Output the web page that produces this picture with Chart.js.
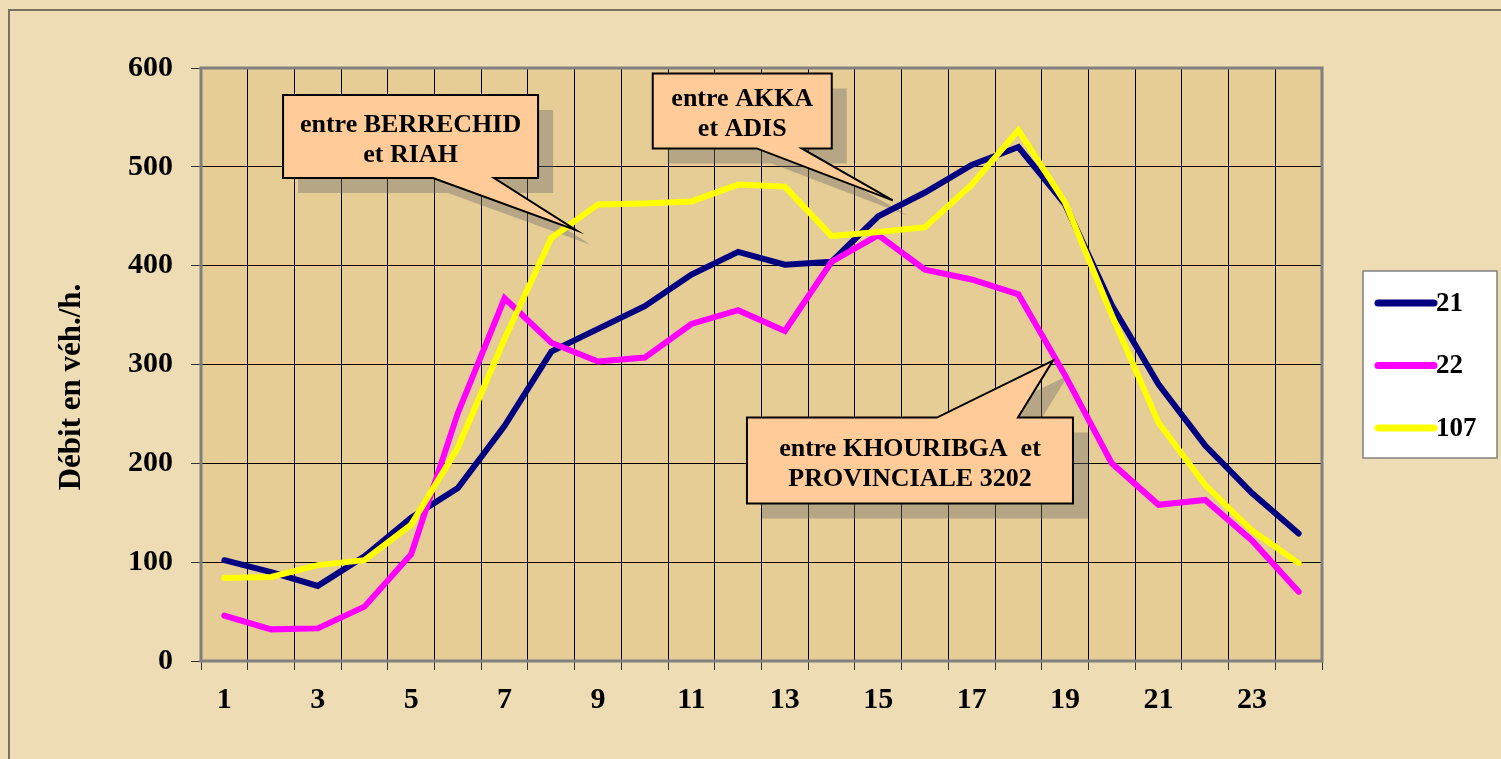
<!DOCTYPE html>
<html>
<head>
<meta charset="utf-8">
<script src="https://cdn.jsdelivr.net/npm/chart.js@4/dist/chart.umd.min.js"></script>
<style>
  html, body { margin: 0; padding: 0; background: #eedcb5; }
  #wrap { width: 1501px; height: 759px; }
</style>
</head>
<body>
<div id="wrap"><canvas id="chart" width="1501" height="759"></canvas></div>
<script>
// hours of the day
const hours = ['1', '2', '3', '4', '5', '6', '7', '8', '9', '10', '11', '12',
  '13', '14', '15', '16', '17', '18', '19', '20', '21', '22', '23', '24'];

// débit (véh./h.) per route section
const route21 = [102, 90, 76, 106, 145, 175, 238, 313, 336, 359, 391, 414,
  401, 404, 450, 474, 502, 520, 462, 360, 280, 218, 170, 129];
const route22 = [46, 32, 33, 55, 108, 251, 367, 322, 303, 307, 341, 355,
  334, 404, 431, 396, 386, 371, 289, 200, 158, 163, 122, 70];
const route107 = [84, 85, 97, 102, 138, 216, 326, 428, 462, 463, 465, 482,
  480, 430, 434, 439, 482, 537, 464, 350, 241, 178, 132, 99];

const seriesNames = ['21', '22', '107'];
const yTicks = [0, 100, 200, 300, 400, 500, 600];
const yTitle = 'Débit en véh./h.';

// callouts: text + the point they refer to (category index, value)
const calloutText = [
  ['entre BERRECHID', 'et RIAH'],
  ['entre AKKA', 'et ADIS'],
  ['entre KHOURIBGA  et', 'PROVINCIALE 3202']
];
const calloutIndex = [7.53, 14.31, 17.74];
const calloutValue = [436, 466, 304];

const FONT = '"Liberation Serif", "Times New Roman", serif';

// box geometry relative to the pointer tip, in px
const calloutBoxes = [
  { dx: -293, dy: -135, w: 255, h: 83, b1: 150, b2: 211, below: false },
  { dx: -240, dy: -127, w: 179, h: 75, b1: 104, b2: 149, below: false },
  { dx: -306, dy: 57, w: 326, h: 86, b1: 190, b2: 271, below: true }
];

function calloutPath(ctx, tx, ty, g, off) {
  const l = tx + g.dx + off, t = ty + g.dy + off, r = l + g.w, b = t + g.h;
  ctx.beginPath();
  if (!g.below) {
    ctx.moveTo(l, t);
    ctx.lineTo(r, t);
    ctx.lineTo(r, b);
    ctx.lineTo(l + g.b2, b);
    ctx.lineTo(tx + off, ty + off);
    ctx.lineTo(l + g.b1, b);
    ctx.lineTo(l, b);
  } else {
    ctx.moveTo(l, t);
    ctx.lineTo(l + g.b1, t);
    ctx.lineTo(tx + off, ty + off);
    ctx.lineTo(l + g.b2, t);
    ctx.lineTo(r, t);
    ctx.lineTo(r, b);
    ctx.lineTo(l, b);
  }
  ctx.closePath();
}

const decor = {
  id: 'decor',
  beforeDraw(chart) {
    const { ctx, chartArea: a, width, height } = chart;
    ctx.save();
    ctx.fillStyle = '#eedcb5';
    ctx.fillRect(0, 0, width, height);
    ctx.strokeStyle = '#7a7060';
    ctx.lineWidth = 2;
    ctx.beginPath();
    ctx.moveTo(9, height);
    ctx.lineTo(9, 10);
    ctx.lineTo(width, 10);
    ctx.stroke();
    ctx.fillStyle = '#e6cc95';
    ctx.fillRect(a.left, a.top, a.right - a.left, a.bottom - a.top);
    ctx.restore();
  },
  beforeDatasetsDraw(chart) {
    const { ctx, chartArea: a, scales } = chart;
    ctx.save();
    ctx.strokeStyle = '#808080';
    ctx.lineWidth = 3;
    ctx.strokeRect(a.left, a.top, a.right - a.left, a.bottom - a.top);
    // y axis title, a little below the axis middle like the original
    ctx.translate(72, 387);
    ctx.rotate(-Math.PI / 2);
    ctx.fillStyle = '#000';
    ctx.font = 'bold 31px ' + FONT;
    ctx.textAlign = 'center';
    ctx.textBaseline = 'middle';
    ctx.fillText(yTitle, 0, 0);
    ctx.setTransform(1, 0, 0, 1, 0, 0);
    // callout shadows
    ctx.fillStyle = 'rgba(110, 110, 110, 0.4)';
    calloutText.forEach((_, i) => {
      const tx = scales.x.getPixelForValue(calloutIndex[i]);
      const ty = scales.y.getPixelForValue(calloutValue[i]);
      calloutPath(ctx, tx, ty, calloutBoxes[i], 15);
      ctx.fill();
    });
    ctx.restore();
  },
  afterDatasetsDraw(chart) {
    const { ctx, scales } = chart;
    ctx.save();
    calloutText.forEach((lines, i) => {
      const g = calloutBoxes[i];
      const tx = scales.x.getPixelForValue(calloutIndex[i]);
      const ty = scales.y.getPixelForValue(calloutValue[i]);
      calloutPath(ctx, tx, ty, g, 0);
      ctx.fillStyle = '#ffcc99';
      ctx.fill();
      ctx.strokeStyle = '#000';
      ctx.lineWidth = 2;
      ctx.lineJoin = 'miter';
      ctx.stroke();
      const cx = tx + g.dx + g.w / 2;
      const cy = ty + g.dy + g.h / 2;
      ctx.fillStyle = '#000';
      ctx.font = 'bold 26px ' + FONT;
      ctx.textAlign = 'center';
      ctx.textBaseline = 'alphabetic';
      ctx.fillText(lines[0], cx, cy - 5);
      ctx.fillText(lines[1], cx, cy + 25);
    });

    // legend
    const lx = 1363, ly = 271, lw = 134, lh = 187;
    ctx.fillStyle = '#fff';
    ctx.fillRect(lx, ly, lw, lh);
    ctx.strokeStyle = '#808080';
    ctx.lineWidth = 1.5;
    ctx.strokeRect(lx, ly, lw, lh);
    chart.data.datasets.forEach((ds, i) => {
      const y = ly + 32 + i * 62.5;
      ctx.strokeStyle = ds.borderColor;
      ctx.lineWidth = 7;
      ctx.lineCap = 'round';
      ctx.beginPath();
      ctx.moveTo(lx + 15, y);
      ctx.lineTo(lx + 71, y);
      ctx.stroke();
      ctx.fillStyle = '#000';
      ctx.font = 'bold 27px ' + FONT;
      ctx.textAlign = 'left';
      ctx.textBaseline = 'middle';
      ctx.fillText(ds.label, lx + 73, y + 1);
    });
    ctx.restore();
  }
};

const colors = ['#000080', '#ff00ff', '#ffff00'];
const values = [route21, route22, route107];

new Chart(document.getElementById('chart'), {
  type: 'line',
  data: {
    labels: hours,
    datasets: seriesNames.map((name, i) => ({
      label: name,
      data: values[i],
      borderColor: colors[i],
      backgroundColor: colors[i],
      borderWidth: 6,
      pointRadius: 0,
      borderCapStyle: 'round',
      borderJoinStyle: 'miter',
      tension: 0,
      order: 3 - i
    }))
  },
  options: {
    responsive: false,
    animation: false,
    layout: { padding: { left: 0, right: 179, top: 68, bottom: 38 } },
    plugins: {
      legend: { display: false },
      tooltip: { enabled: false }
    },
    scales: {
      x: {
        offset: true,
        grid: {
          offset: true,
          color: '#000',
          lineWidth: 1,
          tickLength: 9,
          tickColor: '#333'
        },
        border: { display: false },
        ticks: {
          autoSkip: false,
          maxRotation: 0,
          padding: 12,
          color: '#000',
          font: { family: FONT, size: 30, weight: 'bold' },
          callback: function (val, idx) {
            return idx % 2 === 0 ? this.getLabelForValue(val) : '';
          }
        },
        afterFit: (axis) => { axis.height = 60; }
      },
      y: {
        min: yTicks[0],
        max: yTicks[yTicks.length - 1],
        afterBuildTicks: (axis) => { axis.ticks = yTicks.map(v => ({ value: v })); },
        grid: {
          color: '#000',
          lineWidth: 1,
          tickLength: 10,
          tickColor: '#333'
        },
        border: { display: false },
        ticks: {
          padding: 18,
          color: '#000',
          font: { family: FONT, size: 30, weight: 'bold' }
        },
        afterFit: (axis) => { axis.width = 201; }
      }
    }
  },
  plugins: [decor]
});
</script>
</body>
</html>
